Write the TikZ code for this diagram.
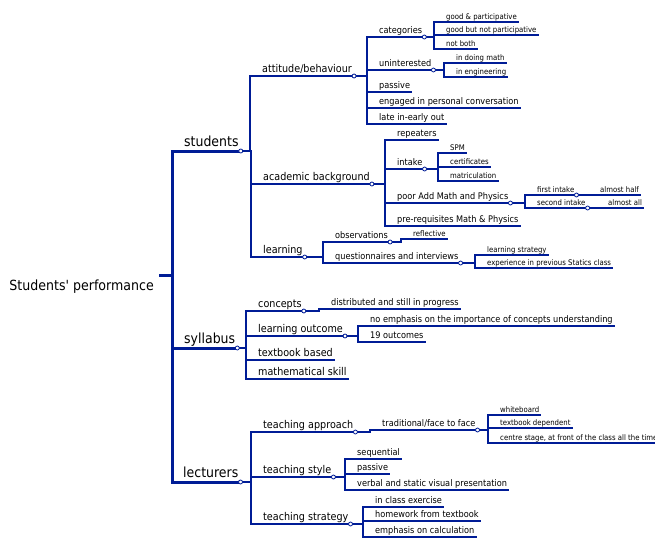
\documentclass[tikz,border=0pt]{standalone}
\usepackage{fontspec}
\newfontfamily\mapfont{DejaVu Sans}[FakeStretch=0.9]
\definecolor{mapblue}{RGB}{0,28,150}

\tikzset{
  topic/.style={anchor=south west, inner xsep=2pt, text depth=0pt, text=black},
  lvroot/.style={anchor=north east, inner xsep=5pt, inner ysep=5pt, font=\mapfont\fontsize{14}{16}\selectfont},
  lvone/.style={topic, inner ysep=4pt, font=\mapfont\fontsize{13.9}{15}\selectfont},
  lvtwo/.style={topic, inner ysep=3pt, font=\mapfont\fontsize{10.7}{12}\selectfont},
  lvthree/.style={topic, inner ysep=3pt, font=\mapfont\fontsize{9.1}{10}\selectfont},
  lvfour/.style={topic, inner ysep=2pt, font=\mapfont\fontsize{7.7}{9}\selectfont},
  conone/.style={draw=mapblue, line width=3pt},
  contwo/.style={draw=mapblue, line width=2pt},
  conthree/.style={draw=mapblue, line width=1.5pt},
  confour/.style={draw=mapblue, line width=1.1pt},
  dot/.style={circle, draw=mapblue, fill=white, line width=0.8pt, inner sep=0pt, minimum size=4pt}
}

\begin{document}
\begin{tikzpicture}[x=1pt,y=-1pt]
 \useasboundingbox (0,0) rectangle (655,538);

 % central topic
 \node[lvroot] (root) at (159,275) {Students' performance};

 % main branches
 \node[lvone] (students) at (182,151) {students};
 \node[lvone] (syllabus) at (182,348) {syllabus};
 \node[lvone] (lecturers) at (181,482) {lecturers};

 % students
 \node[lvtwo] (attitude) at (260,76) {attitude/behaviour};
 \node[lvtwo] (academic) at (261,184) {academic background};
 \node[lvtwo] (learning) at (261,257) {learning};

 \node[lvthree] (categories) at (377,37) {categories};
 \node[lvthree] (uninterested) at (377,70) {uninterested};
 \node[lvthree] (passiveA) at (377,92) {passive};
 \node[lvthree] (engaged) at (377,108) {engaged in personal conversation};
 \node[lvthree] (late) at (377,124) {late in-early out};

 \node[lvfour] (goodpart) at (444,22) {good \& participative};
 \node[lvfour] (goodnot) at (444,35) {good but not participative};
 \node[lvfour] (notboth) at (444,49) {not both};
 \node[lvfour] (doingmath) at (454,63) {in doing math};
 \node[lvfour] (engineering) at (454,77) {in engineering};

 \node[lvthree] (repeaters) at (395,140) {repeaters};
 \node[lvthree] (intake) at (395,169) {intake};
 \node[lvthree] (poor) at (395,203) {poor Add Math and Physics};
 \node[lvthree] (prereq) at (395,226) {pre-requisites Math \& Physics};

 \node[lvfour] (spm) at (448,153) {SPM};
 \node[lvfour] (certificates) at (448,167) {certificates};
 \node[lvfour] (matric) at (448,181) {matriculation};
 \node[lvfour] (firstint) at (535,195) {first intake};
 \node[lvfour] (secondint) at (535,208) {second intake};
 \node[lvfour] (half) at (598,195) {almost half};
 \node[lvfour] (all) at (606,208) {almost all};

 \node[lvthree] (observations) at (333,242) {observations};
 \node[lvthree] (questionnaires) at (333,263) {questionnaires and interviews};
 \node[lvfour] (reflective) at (411,239) {reflective};
 \node[lvfour] (lstrategy) at (485,255) {learning strategy};
 \node[lvfour] (experience) at (485,268) {experience in previous Statics class};

 % syllabus
 \node[lvtwo] (concepts) at (256,311) {concepts};
 \node[lvtwo] (outcome) at (256,336) {learning outcome};
 \node[lvtwo] (textbook) at (256,360) {textbook based};
 \node[lvtwo] (mathskill) at (256,379) {mathematical skill};

 \node[lvthree] (distributed) at (329,309) {distributed and still in progress};
 \node[lvthree] (noemph) at (368,326) {no emphasis on the importance of concepts understanding};
 \node[lvthree] (nineteen) at (368,342) {19 outcomes};

 % lecturers
 \node[lvtwo] (approach) at (261,432) {teaching approach};
 \node[lvtwo] (tstyle) at (261,477) {teaching style};
 \node[lvtwo] (tstrategy) at (261,524) {teaching strategy};

 \node[lvthree] (traditional) at (380,430) {traditional/face to face};
 \node[lvfour] (whiteboard) at (498,415) {whiteboard};
 \node[lvfour] (tbdependent) at (498,428) {textbook dependent};
 \node[lvfour] (centre) at (498,443) {centre stage, at front of the class all the time};

 \node[lvthree] (sequential) at (355,459) {sequential};
 \node[lvthree] (passiveB) at (355,474) {passive};
 \node[lvthree] (verbal) at (355,490) {verbal and static visual presentation};

 \node[lvthree] (inclass) at (373,507) {in class exercise};
 \node[lvthree] (homework) at (373,521) {homework from textbook};
 \node[lvthree] (emphasis) at (373,537) {emphasis on calculation};

 % connectors
 \draw[conone] (root.north east) -- ++(13,0) coordinate (hub);
 \foreach \c in {students,syllabus,lecturers}
   \draw[conone] (hub) |- (\c.south east);

 \foreach \p/\c in {students/attitude,students/academic,students/learning,
                    syllabus/concepts,syllabus/outcome,syllabus/textbook,syllabus/mathskill,
                    lecturers/approach,lecturers/tstyle,lecturers/tstrategy}
   \draw[contwo] (\p.south east) -| ([xshift=-10pt]\c.south west) -- (\c.south east);

 \foreach \p/\c in {attitude/categories,attitude/uninterested,attitude/passiveA,attitude/engaged,attitude/late,
                    academic/repeaters,academic/intake,academic/poor,academic/prereq,
                    learning/observations,learning/questionnaires,
                    concepts/distributed,outcome/noemph,outcome/nineteen,
                    approach/traditional,
                    tstyle/sequential,tstyle/passiveB,tstyle/verbal,
                    tstrategy/inclass,tstrategy/homework,tstrategy/emphasis}
   \draw[conthree] (\p.south east) -| ([xshift=-10pt]\c.south west) -- (\c.south east);

 \foreach \p/\c in {categories/goodpart,categories/goodnot,categories/notboth,
                    uninterested/doingmath,uninterested/engineering,
                    intake/spm,intake/certificates,intake/matric,
                    poor/firstint,poor/secondint,firstint/half,secondint/all,
                    observations/reflective,
                    questionnaires/lstrategy,questionnaires/experience,
                    traditional/whiteboard,traditional/tbdependent,traditional/centre}
   \draw[confour] (\p.south east) -| ([xshift=-10pt]\c.south west) -- (\c.south east);

 % end points of topics with subtopics
 \foreach \p in {students,syllabus,lecturers,attitude,academic,learning,categories,uninterested,
                 intake,poor,firstint,secondint,observations,questionnaires,concepts,outcome,
                 approach,traditional,tstyle,tstrategy}
   \node[dot] (\p-dot) at (\p.south east) {};
\end{tikzpicture}
\end{document}
